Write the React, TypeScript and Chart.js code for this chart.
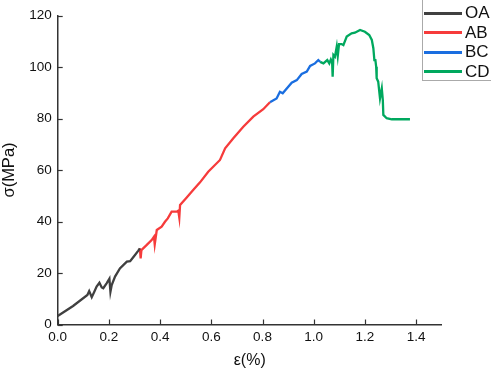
import React, { useEffect, useRef } from "react";
import { Chart, registerables } from "chart.js";

Chart.register(...registerables);

const seriesNames = ["OA", "AB", "BC", "CD"];
const seriesColors = ["#404040", "#f63b3b", "#1a6ee0", "#00a85e"];

const oaX = [0, 0.06, 0.116, 0.123, 0.133, 0.143, 0.152, 0.163, 0.172, 0.178, 0.191, 0.202, 0.206, 0.211, 0.224, 0.243, 0.27, 0.283, 0.302, 0.315, 0.321];
const oaY = [3.3, 7.2, 11.5, 13.0, 10.6, 12.7, 14.7, 16.2, 14.4, 14.1, 16.0, 17.8, 12.7, 15.3, 18.6, 21.8, 24.4, 24.6, 27.0, 28.7, 29.6];

const abX = [0.321, 0.324, 0.327, 0.348, 0.367, 0.376, 0.379, 0.387, 0.406, 0.419, 0.43, 0.445, 0.465, 0.471, 0.475, 0.478, 0.504, 0.53, 0.556, 0.588, 0.634, 0.654, 0.686, 0.725, 0.764, 0.803, 0.829];
const abY = [29.6, 25.7, 28.9, 30.9, 32.8, 34.1, 31.1, 36.7, 38.0, 39.9, 41.2, 43.8, 43.8, 44.2, 41.5, 46.4, 49.3, 52.3, 55.2, 59.3, 63.9, 68.4, 72.3, 76.8, 80.7, 83.6, 86.3];

const bcX = [0.829, 0.855, 0.868, 0.879, 0.914, 0.934, 0.953, 0.973, 0.986, 1.005, 1.018, 1.025];
const bcY = [86.3, 87.8, 90.4, 89.8, 93.9, 94.9, 97.3, 98.2, 100.4, 101.4, 102.7, 102.0];

const cdX = [1.025, 1.038, 1.053, 1.061, 1.067, 1.072, 1.074, 1.077, 1.083, 1.09, 1.094, 1.099, 1.109, 1.116, 1.129, 1.148, 1.161, 1.181, 1.2, 1.217, 1.227, 1.233, 1.237, 1.241, 1.244, 1.246, 1.252, 1.259, 1.266, 1.27, 1.272, 1.285, 1.305, 1.376];
const cdY = [102.0, 101.4, 102.7, 101.4, 102.9, 101.8, 96.2, 104.7, 104.0, 107.9, 104.3, 108.9, 108.9, 108.5, 111.8, 113.1, 113.3, 114.4, 113.7, 112.4, 110.5, 107.3, 102.7, 102.7, 100.1, 95.6, 94.3, 87.8, 91.7, 87.2, 81.4, 80.1, 79.7, 79.7];

const seriesX = [oaX, abX, bcX, cdX];
const seriesY = [oaY, abY, bcY, cdY];

const xTitle = "ε(%)";
const yTitle = "σ(MPa)";
const xMin = 0, xMax = 1.5, xStep = 0.2;
const yMin = 0, yMax = 120, yStep = 20;

const AXIS = "#333333";
const FONT = "'Liberation Sans', Arial, sans-serif";

const innerTicks = {
  id: "innerTicks",
  afterDraw(chart: any) {
    const { ctx, chartArea, scales } = chart;
    ctx.save();
    ctx.strokeStyle = AXIS;
    ctx.lineWidth = 1.2;
    const len = 5;
    scales.x.ticks.forEach((t: any) => {
      const px = Math.round(scales.x.getPixelForValue(t.value)) + 0.5;
      ctx.beginPath();
      ctx.moveTo(px, chartArea.bottom);
      ctx.lineTo(px, chartArea.bottom - len);
      ctx.stroke();
    });
    scales.y.ticks.forEach((t: any) => {
      const py = Math.round(scales.y.getPixelForValue(t.value)) + 0.5;
      ctx.beginPath();
      ctx.moveTo(chartArea.left, py);
      ctx.lineTo(chartArea.left + len, py);
      ctx.stroke();
    });
    ctx.restore();
  },
};

export default function App() {
  const ref = useRef<HTMLCanvasElement>(null);

  useEffect(() => {
    if (!ref.current) return;
    const datasets = seriesNames.map((name, i) => ({
      label: name,
      data: seriesX[i].map((x, j) => ({ x, y: seriesY[i][j] })),
      borderColor: seriesColors[i],
      backgroundColor: seriesColors[i],
      borderWidth: 2.3,
      pointRadius: 0,
      tension: 0,
      fill: false,
    }));
    const chart = new Chart(ref.current, {
      type: "line",
      data: { datasets },
      plugins: [innerTicks],
      options: {
        animation: false,
        responsive: false,
        layout: { padding: { top: 15.5, right: 49.3, left: 0, bottom: 0 } },
        plugins: { legend: { display: false }, tooltip: { enabled: false } },
        scales: {
          x: {
            type: "linear",
            min: xMin,
            max: xMax,
            grid: { display: false, drawTicks: false },
            border: { display: true, color: AXIS, width: 1.5 },
            ticks: {
              stepSize: xStep,
              includeBounds: false,
              padding: 5,
              color: "#111",
              font: { family: FONT, size: 13.5 },
              callback: (v: any) => Number(v).toFixed(1),
            },
            title: {
              display: true,
              text: xTitle,
              color: "#111",
              font: { family: FONT, size: 16 },
              padding: 0,
            },
            afterFit: (s: any) => { s.height = 45.5; },
          },
          y: {
            type: "linear",
            min: yMin,
            max: yMax,
            grid: { display: false, drawTicks: false },
            border: { display: true, color: AXIS, width: 1.5 },
            ticks: {
              stepSize: yStep,
              padding: 6,
              color: "#111",
              font: { family: FONT, size: 13.5 },
            },
            title: {
              display: true,
              text: yTitle,
              color: "#111",
              font: { family: FONT, size: 16.5 },
              padding: 0,
            },
            afterFit: (s: any) => { s.width = 57.7; },
          },
        },
      },
    });
    return () => chart.destroy();
  }, []);

  return (
    <div style={{ position: "absolute", left: 0, top: 0, width: 491, height: 370, background: "#fff" }}>
      <canvas ref={ref} width={491} height={370} style={{ display: "block" }} />
      <div
        style={{
          position: "absolute",
          left: 422,
          top: -1,
          width: 80,
          height: 80,
          border: "1px solid #aaaaaa",
          background: "#fff",
          fontFamily: FONT,
          fontSize: 17,
          color: "#111",
        }}
      >
        {seriesNames.map((n, i) => (
          <div key={n} style={{ position: "absolute", left: 0, top: 3 + i * 19.5, height: 20, display: "flex", alignItems: "center" }}>
            <div style={{ width: 38, height: 3, marginLeft: 1, background: seriesColors[i] }} />
            <span style={{ marginLeft: 3, lineHeight: "20px" }}>{n}</span>
          </div>
        ))}
      </div>
    </div>
  );
}
